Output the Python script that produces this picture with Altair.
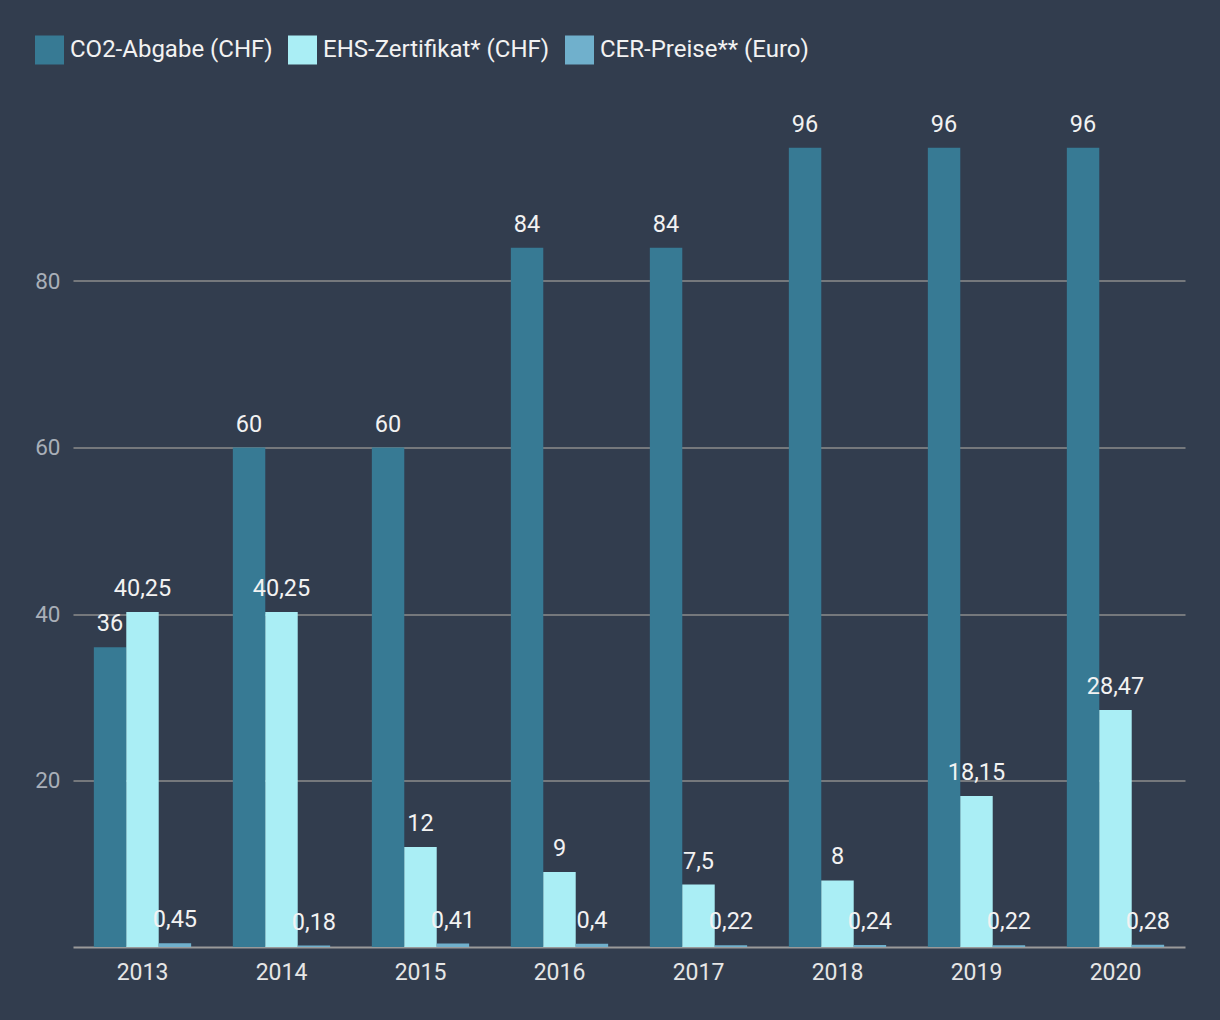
import altair as alt
import pandas as pd

years = ["2013", "2014", "2015", "2016", "2017", "2018", "2019", "2020"]
series = ["CO2-Abgabe (CHF)", "EHS-Zertifikat* (CHF)", "CER-Preise** (Euro)"]
co2 = [36, 60, 60, 84, 84, 96, 96, 96]
ehs = [40.25, 40.25, 12, 9, 7.5, 8, 18.15, 28.47]
cer = [0.45, 0.18, 0.41, 0.4, 0.22, 0.24, 0.22, 0.28]
colors = ["#377a94", "#aaeef5", "#70b0cc"]

rows = []
for si, (name, vals) in enumerate(zip(series, [co2, ehs, cer])):
    for y, v in zip(years, vals):
        rows.append({"Jahr": y, "Serie": name, "order": si, "Wert": v,
                     "label": ("%g" % v).replace(".", ",")})
df = pd.DataFrame(rows)

FONT = "Roboto"
BG = "#323d4e"

x = alt.X("Jahr:N", sort=years, title=None,
          scale=alt.Scale(paddingInner=0.3, paddingOuter=0.15),
          axis=alt.Axis(labelAngle=0, labelColor="#e6e6e6", labelFontSize=23,
                        labelFont=FONT, ticks=False, domainColor="#9a9a9a",
                        domainWidth=2, labelPadding=14, grid=False))
xo = alt.XOffset("Serie:N", sort=series)
y = alt.Y("Wert:Q", title=None,
          scale=alt.Scale(domain=[0, 100], nice=False),
          axis=alt.Axis(values=[20, 40, 60, 80], labelColor="#a9afb8",
                        labelFontSize=22.5, labelFont=FONT, ticks=False,
                        domain=False, gridColor="#8c8c8c", gridWidth=1.5,
                        labelPadding=13))
color = alt.Color("Serie:N", sort=series,
                  scale=alt.Scale(domain=series, range=colors),
                  legend=alt.Legend(title=None, orient="none", direction="horizontal",
                                    legendX=-38, legendY=-79,
                                    symbolType="square", symbolSize=841,
                                    symbolStrokeWidth=0, symbolOpacity=1,
                                    labelFontSize=24, labelFont=FONT,
                                    labelColor="#f2f2f2", columnPadding=15,
                                    labelOffset=6, symbolLimit=0, labelLimit=0))

bars = alt.Chart(df).mark_bar(opacity=1).encode(x=x, xOffset=xo, y=y, color=color)
text = alt.Chart(df).mark_text(baseline="bottom", dy=-11, fontSize=23.5, font=FONT,
                               color="#f2f2f2").encode(
    x=x, xOffset=xo, y=y, text="label:N")

chart = (bars + text).properties(
    width=1112, height=832.5, background=BG,
    padding={"left": 73, "top": 114.5, "right": 35, "bottom": 72.5},
    autosize=alt.AutoSizeParams(type="none"),
).configure_view(stroke=None)

chart.save("out.html", embed_options={"renderer": "svg", "actions": False})
